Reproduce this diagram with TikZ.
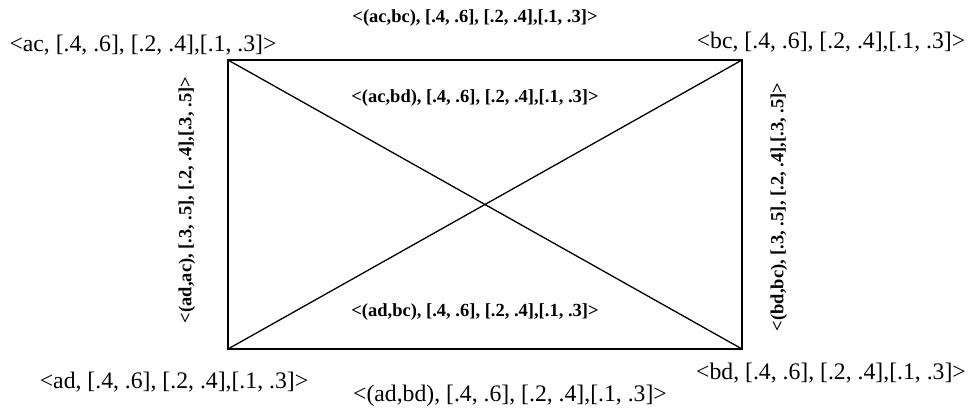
\documentclass[tikz,border=0pt]{standalone}
\usepackage{fontspec}
\setmainfont{Liberation Serif}
\usetikzlibrary{positioning}

\begin{document}
\begin{tikzpicture}[
  x=1pt, y=-1pt,
  edge/.style={draw=black, line width=1.6pt},
  diag/.style={draw=black, line width=1.3pt},
  cornerlbl/.style={inner sep=0pt, font=\fontsize{23.7}{26}\selectfont},
  edgelbl/.style={inner sep=0pt, font=\fontsize{18.5}{21}\selectfont\bfseries},
  sidelbl/.style={edgelbl, rotate=90}
]
\useasboundingbox (0,0) rectangle (973,409);

\coordinate (ac) at (228,60);
\coordinate (bc) at (742,60);
\coordinate (ad) at (228,349);
\coordinate (bd) at (742,349);

\draw[edge] (ac) -- (bc) -- (bd) -- (ad) -- cycle;
\draw[diag] (ac) -- (bd);
\draw[diag] (ad) -- (bc);

% corner labels
\node[cornerlbl] (lac) at (143,45) {<ac, [.4, .6], [.2, .4],[.1, .3]>};
\node[cornerlbl] (lbc) at (831,42) {<bc, [.4, .6], [.2, .4],[.1, .3]>};
\node[cornerlbl] (lad) at (174,382) {<ad, [.4, .6], [.2, .4],[.1, .3]>};
\node[cornerlbl] (lbd) at (831,373) {<bd, [.4, .6], [.2, .4],[.1, .3]>};

% edge labels
\node[edgelbl] (lacbc) at (475,18) {<(ac,bc), [.4, .6], [.2, .4],[.1, .3]>};
\node[edgelbl] (lacbd) at (475,98) {<(ac,bd), [.4, .6], [.2, .4],[.1, .3]>};
\node[edgelbl] (ladbc) at (475,312) {<(ad,bc), [.4, .6], [.2, .4],[.1, .3]>};
\node[cornerlbl] (ladbd) at (510,396) {<(ad,bd), [.4, .6], [.2, .4],[.1, .3]>};
\node[sidelbl] (ladac) at (187,200) {<(ad,ac), [.3, .5], [.2, .4],[.3, .5]>};
\node[sidelbl] (lbdbc) at (779,207) {<(bd,bc), [.3, .5], [.2, .4],[.3, .5]>};
\end{tikzpicture}
\end{document}
